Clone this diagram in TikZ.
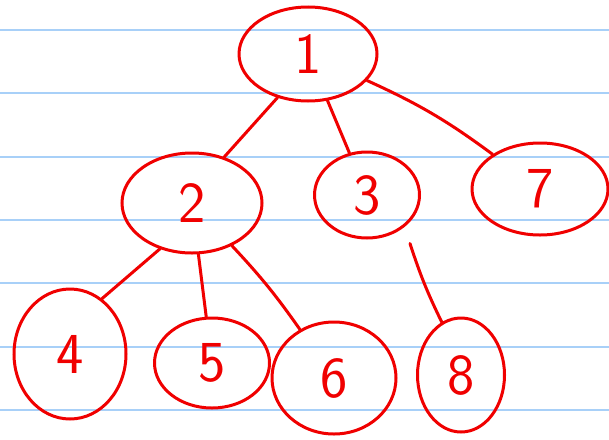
\documentclass[tikz,border=0pt]{standalone}
\usepackage{tikz}
\usetikzlibrary{shapes,calc}
\definecolor{ruleblue}{RGB}{168,208,248}
\definecolor{inkred}{RGB}{240,0,0}

\begin{document}
\begin{tikzpicture}[x=1pt,y=-1pt,
  knoten/.style={draw=inkred, line width=3pt, ellipse, inner sep=0pt,
    text=inkred, font=\sffamily\fontsize{58}{58}\selectfont},
  kante/.style={draw=inkred, line width=3pt, line cap=round}]
  \useasboundingbox (0,0) rectangle (609,439);
  \fill[white] (0,0) rectangle (609,439);

  % Linien des Papiers
  \foreach \y in {30,93.3,156.7,220,283.3,346.7,410} {
    \draw[ruleblue, line width=2.2pt] (0,\y) -- (609,\y);
  }

  % Knoten
  \node[knoten, minimum width=138pt, minimum height=94pt] (n1) at (308,54) {1};
  \node[knoten, minimum width=140pt, minimum height=100pt] (n2) at (192,203) {2};
  \node[knoten, minimum width=105pt, minimum height=86pt] (n3) at (367,195) {3};
  \node[knoten, minimum width=136pt, minimum height=92pt] (n7) at (540,189) {7};
  \node[knoten, minimum width=112pt, minimum height=130pt] (n4) at (70,354) {4};
  \node[knoten, minimum width=115pt, minimum height=90pt] (n5) at (212,363) {5};
  \node[knoten, minimum width=124pt, minimum height=112pt] (n6) at (334,378) {6};
  \node[knoten, minimum width=87pt, minimum height=114pt] (n8) at (461,375) {8};

  % Kanten
  \draw[kante] (n1.-125) -- (n2.55);
  \draw[kante] (n1) -- (n3);
  \draw[kante] (n1) to[bend left=6] (n7);
  \draw[kante] (n2.-125) -- (n4.60);
  \draw[kante] (n2) -- (n5);
  \draw[kante] (n2) to[bend left=4] (n6);
  \coordinate (t8) at ($(n3.south)+(43,4)$);
  \draw[kante] (t8) to[bend right=4] (n8.110);
\end{tikzpicture}
\end{document}
